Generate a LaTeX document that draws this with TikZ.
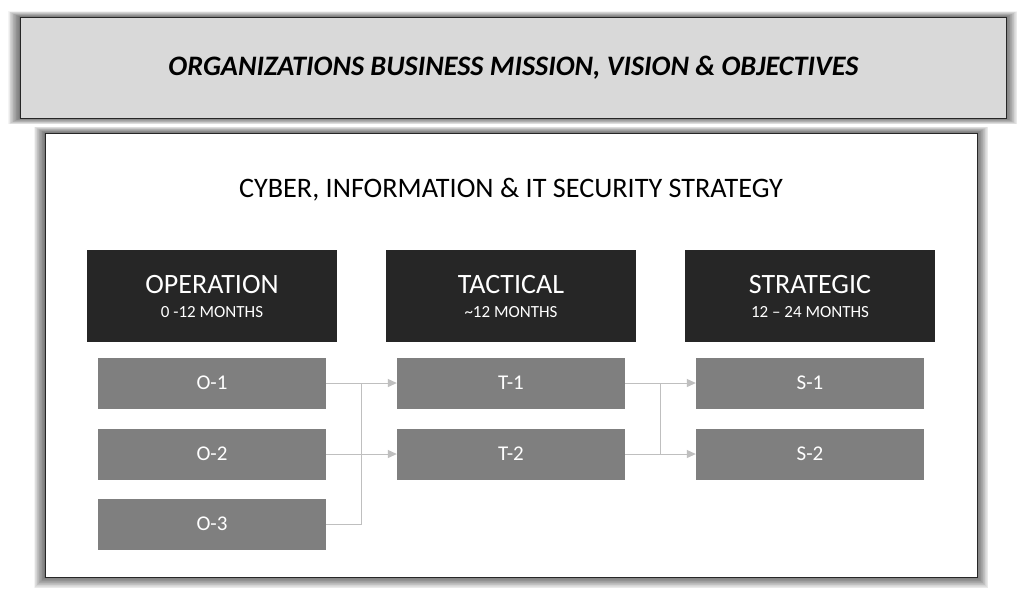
\documentclass[tikz,border=0pt]{standalone}
\usepackage{fontspec}
\setmainfont{Carlito}
\usetikzlibrary{arrows.meta,calc}
\definecolor{bannerfill}{HTML}{D9D9D9}
\definecolor{headfill}{HTML}{262626}
\definecolor{itemfill}{HTML}{7F7F7F}
\definecolor{linkcol}{HTML}{BFBFBF}
\tikzset{
  glow/.style={fill=black, opacity=0.045},
  banner/.style={draw=black!85, line width=1pt, fill=bannerfill},
  panel/.style={draw=black!85, line width=1pt, fill=white},
  headbox/.style={fill=headfill, text=white, align=center, minimum width=250pt, minimum height=92pt, inner sep=0pt, font=\fontsize{17}{24}\selectfont},
  itembox/.style={fill=itemfill, text=white, font=\fontsize{21}{24}\selectfont, minimum width=228pt, minimum height=51pt, inner sep=0pt},
  link/.style={draw=linkcol, line width=1pt},
  linkarrow/.style={link, -{Triangle[length=9pt,width=8pt]}}
}
\begin{document}
\begin{tikzpicture}[x=1pt,y=-1pt]
\useasboundingbox (0,0) rectangle (1024,598);
\fill[white] (0,0) rectangle (1024,598);
% glows
\foreach \i in {1,...,16} {
  \fill[glow] (20-0.75*\i,17-0.35*\i) rectangle (1006+0.7*\i,118+0.4*\i);
  \fill[glow] (45-0.7*\i,133-0.4*\i) rectangle (977+0.7*\i,577+0.7*\i);
}
% banner
\node[banner, minimum width=986pt, minimum height=101pt, inner sep=0pt, anchor=north west] (banner) at (20,17) {};
\node[font=\fontsize{28.2}{32}\selectfont\bfseries\itshape] (bannertext) at (banner.center) {ORGANIZATIONS BUSINESS MISSION, VISION \& OBJECTIVES};
% panel
\node[panel, minimum width=932pt, minimum height=444pt, inner sep=0pt, anchor=north west] (panel) at (45,133) {};
\node[font=\fontsize{28.2}{32}\selectfont] (title) at (511,190) {CYBER, INFORMATION \& IT SECURITY STRATEGY};
% headers
\node[headbox] (op) at (212,296) {{\fontsize{28}{30}\selectfont OPERATION}\\0 -12 MONTHS};
\node[headbox] (ta) at (511,296) {{\fontsize{28}{30}\selectfont TACTICAL}\\\textasciitilde12 MONTHS};
\node[headbox] (st) at (810,296) {{\fontsize{28}{30}\selectfont STRATEGIC}\\12 – 24 MONTHS};
% items
\node[itembox] (o1) at (212,383) {O-1};
\node[itembox] (o2) at (212,454) {O-2};
\node[itembox] (o3) at (212,524) {O-3};
\node[itembox] (t1) at (511,383) {T-1};
\node[itembox] (t2) at (511,454) {T-2};
\node[itembox] (s1) at (810,383) {S-1};
\node[itembox] (s2) at (810,454) {S-2};
% connectors
\coordinate (j1) at ($(o1.east)!0.5!(t1.west)$);
\coordinate (j2) at ($(t1.east)!0.5!(s1.west)$);
\draw[linkarrow] (o1.east) -- (t1.west);
\draw[linkarrow] (o2.east) -- (t2.west);
\draw[link] (o3.east) -| (j1);
\draw[linkarrow] (t1.east) -- (s1.west);
\draw[linkarrow] (t2.east) -- (s2.west);
\draw[link] (j2) -- (j2 |- t2.east);
\end{tikzpicture}
\end{document}
